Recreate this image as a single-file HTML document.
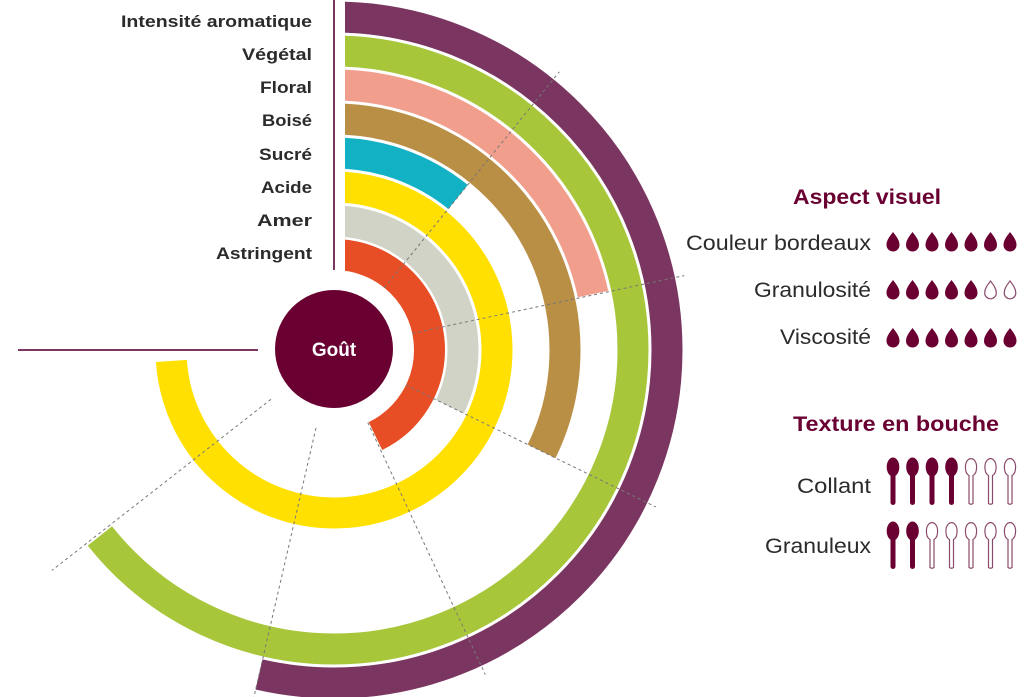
<!DOCTYPE html>
<html><head><meta charset="utf-8"><style>html,body{margin:0;padding:0;background:#fff}svg{display:block}</style></head>
<body>
<svg width="1024" height="697" viewBox="0 0 1024 697" xmlns="http://www.w3.org/2000/svg">
<defs>
<path id="dF" d="M0,0 C3,4 6.5,8 6.5,13 A6.5,6.5 0 0 1 -6.5,13 C-6.5,8 -3,4 0,0 Z" fill="#6a0032"/>
<path id="dE" d="M0,1 C3,5 5.8,8.5 5.8,13 A5.8,5.8 0 0 1 -5.8,13 C-5.8,8.5 -3,5 0,1 Z" fill="#fff" stroke="#8a4a6a" stroke-width="1.2"/>
<g id="sF" fill="#6a0032"><ellipse cx="0" cy="9" rx="6.3" ry="9.5"/><rect x="-2.5" y="14" width="5" height="33" rx="2.5"/></g>
<g id="sE" fill="#fff" stroke="#8a4a6a" stroke-width="1.2"><path d="M-2,17.5 C-5,16 -5.6,12 -5.6,9 C-5.6,4 -3,0.6 0,0.6 C3,0.6 5.6,4 5.6,9 C5.6,12 5,16 2,17.5 L2,45.5 Q0,47 -2,45.5 Z"/></g>
</defs>
<g fill="none" stroke-width="31" transform="rotate(-90 334 350)">
<circle cx="334" cy="350" r="333" stroke="#7b3561" stroke-dasharray="1121.7 3000"/>
<circle cx="334" cy="350" r="299" stroke="#a8c63a" stroke-dasharray="1208.2 3000"/>
<circle cx="334" cy="350" r="265" stroke="#f29e8c" stroke-dasharray="359.8 3000"/>
<circle cx="334" cy="350" r="231" stroke="#b98e45" stroke-dasharray="467.7 3000"/>
<circle cx="334" cy="350" r="197" stroke="#13b1c4" stroke-dasharray="134.1 3000"/>
<circle cx="334" cy="350" r="163" stroke="#ffe000" stroke-dasharray="756.8 3000"/>
<circle cx="334" cy="350" r="129" stroke="#d1d3c6" stroke-dasharray="261.2 3000"/>
<circle cx="334" cy="350" r="95.5" stroke="#e84e25" stroke-dasharray="257 3000"/>
</g>
<rect x="333" y="0" width="12" height="275" fill="#fff"/>
<line x1="334" y1="0" x2="334" y2="270" stroke="#7b3561" stroke-width="2"/>
<line x1="18" y1="350" x2="258" y2="350" stroke="#7b3561" stroke-width="2"/>
<g stroke="#777" stroke-width="1" stroke-dasharray="3 3">
<line x1="384.3" y1="287.8" x2="559.3" y2="71.8"/>
<line x1="412.2" y1="333.4" x2="684.2" y2="275.6"/>
<line x1="405.9" y1="385.1" x2="655.8" y2="506.9"/>
<line x1="367.8" y1="422.5" x2="485.3" y2="674.5"/>
<line x1="316" y1="427.9" x2="253.5" y2="698.8"/>
<line x1="271" y1="399.3" x2="51.9" y2="570.4"/>
</g>
<circle cx="334" cy="349" r="59" fill="#6a0032"/>
<text x="334" y="356" text-anchor="middle" fill="#fff" font-family="Liberation Sans, sans-serif" font-weight="bold" font-size="19">Goût</text>
<g font-family="Liberation Sans, sans-serif" font-weight="bold" font-size="17" fill="#2b2b2b" text-anchor="end">
<text x="312" y="27" textLength="191" lengthAdjust="spacingAndGlyphs">Intensité aromatique</text>
<text x="312" y="60" textLength="70" lengthAdjust="spacingAndGlyphs">Végétal</text>
<text x="312" y="93" textLength="52" lengthAdjust="spacingAndGlyphs">Floral</text>
<text x="312" y="126" textLength="50" lengthAdjust="spacingAndGlyphs">Boisé</text>
<text x="312" y="160" textLength="53" lengthAdjust="spacingAndGlyphs">Sucré</text>
<text x="312" y="193" textLength="51" lengthAdjust="spacingAndGlyphs">Acide</text>
<text x="312" y="226" textLength="55" lengthAdjust="spacingAndGlyphs">Amer</text>
<text x="312" y="259" textLength="96" lengthAdjust="spacingAndGlyphs">Astringent</text>
</g>
<g font-family="Liberation Sans, sans-serif" font-weight="bold" font-size="21" fill="#6a0032">
<text x="793" y="204" textLength="148" lengthAdjust="spacingAndGlyphs">Aspect visuel</text>
<text x="793" y="431" textLength="206" lengthAdjust="spacingAndGlyphs">Texture en bouche</text>
</g>
<g font-family="Liberation Sans, sans-serif" font-size="21" fill="#2b2b2b" text-anchor="end">
<text x="871" y="250" textLength="185" lengthAdjust="spacingAndGlyphs">Couleur bordeaux</text>
<text x="871" y="297" textLength="117" lengthAdjust="spacingAndGlyphs">Granulosité</text>
<text x="871" y="344" textLength="91" lengthAdjust="spacingAndGlyphs">Viscosité</text>
<text x="871" y="493" textLength="74" lengthAdjust="spacingAndGlyphs">Collant</text>
<text x="871" y="553" textLength="106" lengthAdjust="spacingAndGlyphs">Granuleux</text>
</g>
<g>
<use href="#dF" x="893" y="232"/><use href="#dF" x="912.5" y="232"/><use href="#dF" x="932" y="232"/><use href="#dF" x="951.5" y="232"/><use href="#dF" x="971" y="232"/><use href="#dF" x="990.5" y="232"/><use href="#dF" x="1010" y="232"/>
<use href="#dF" x="893" y="280"/><use href="#dF" x="912.5" y="280"/><use href="#dF" x="932" y="280"/><use href="#dF" x="951.5" y="280"/><use href="#dF" x="971" y="280"/><use href="#dE" x="990.5" y="280"/><use href="#dE" x="1010" y="280"/>
<use href="#dF" x="893" y="328"/><use href="#dF" x="912.5" y="328"/><use href="#dF" x="932" y="328"/><use href="#dF" x="951.5" y="328"/><use href="#dF" x="971" y="328"/><use href="#dF" x="990.5" y="328"/><use href="#dF" x="1010" y="328"/>
<use href="#sF" x="893" y="458"/><use href="#sF" x="912.5" y="458"/><use href="#sF" x="932" y="458"/><use href="#sF" x="951.5" y="458"/><use href="#sE" x="971" y="458"/><use href="#sE" x="990.5" y="458"/><use href="#sE" x="1010" y="458"/>
<use href="#sF" x="893" y="522"/><use href="#sF" x="912.5" y="522"/><use href="#sE" x="932" y="522"/><use href="#sE" x="951.5" y="522"/><use href="#sE" x="971" y="522"/><use href="#sE" x="990.5" y="522"/><use href="#sE" x="1010" y="522"/>
</g>
</svg>
</body></html>
